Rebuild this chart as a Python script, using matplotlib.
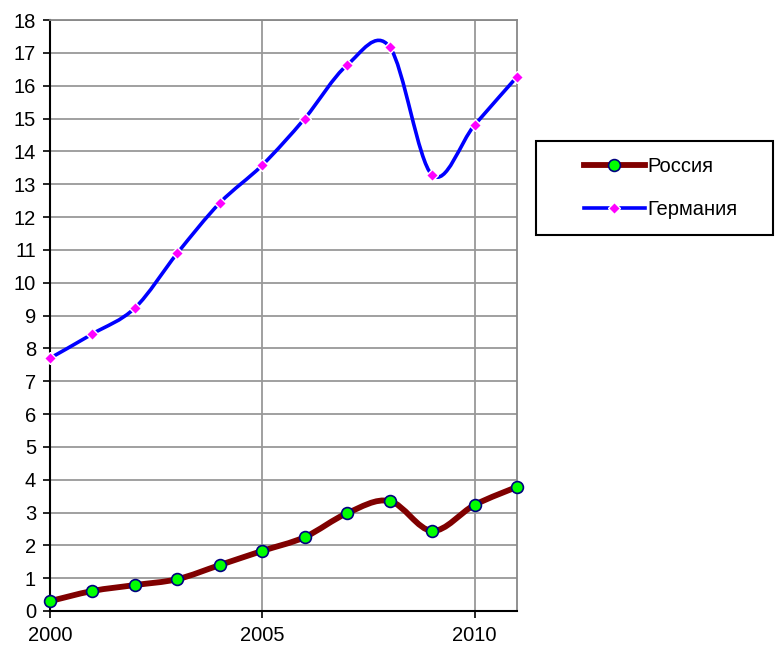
import numpy as np
import matplotlib
matplotlib.use('Agg')
import matplotlib.pyplot as plt
from matplotlib.path import Path
from matplotlib.patches import PathPatch, Rectangle
from matplotlib.lines import Line2D

plt.rcParams['font.family'] = ['Liberation Sans', 'DejaVu Sans']

years = [2000, 2001, 2002, 2003, 2004, 2005, 2006, 2007, 2008, 2009, 2010, 2011]
russia = [0.30, 0.61, 0.79, 0.97, 1.40, 1.83, 2.25, 2.98, 3.35, 2.44, 3.23, 3.78]
germany = [7.70, 8.44, 9.23, 10.90, 12.43, 13.58, 15.00, 16.63, 17.18, 13.28, 14.80, 16.27]
labels = ['Россия', 'Германия']


def smooth_path(x, y):
    # Excel-like smoothed line: bezier segments through the points
    pts = np.column_stack([x, y]).astype(float)
    n = len(pts)
    verts = [pts[0]]
    codes = [Path.MOVETO]
    for i in range(n - 1):
        p0 = pts[i - 1] if i > 0 else pts[i]
        p1 = pts[i]
        p2 = pts[i + 1]
        p3 = pts[i + 2] if i + 2 < n else pts[i + 1]
        verts += [p1 + (p2 - p0) / 6, p2 - (p3 - p1) / 6, p2]
        codes += [Path.CURVE4] * 3
    return Path(verts, codes)


fig = plt.figure(figsize=(7.76, 6.48), dpi=100)
ax = fig.add_axes([50 / 776, 37 / 648, 467 / 776, 591 / 648])

ax.set_xlim(2000, 2011)
ax.set_ylim(0, 18)
ax.set_yticks(range(0, 19))
ax.set_xticks([2000, 2005, 2010])
ax.grid(True, color='#999999', lw=1.3)
ax.set_axisbelow(True)
for s in ['top', 'right']:
    ax.spines[s].set_color('#888888')
    ax.spines[s].set_linewidth(1.3)
for s in ['left', 'bottom']:
    ax.spines[s].set_color('black')
    ax.spines[s].set_linewidth(1.5)
ax.tick_params(labelsize=14.5, length=5, width=1.2, direction='out')
ax.tick_params(axis='y', pad=5)
ax.tick_params(axis='x', pad=6)

# Russia
ax.add_patch(PathPatch(smooth_path(years, russia), facecolor='none', edgecolor='#800000',
                       lw=4.2, capstyle='round', joinstyle='round', clip_on=False, zorder=3))
ax.plot(years, russia, ls='none', marker='o', ms=8.5, mfc='#00ff00', mec='#000080', mew=1.2,
        clip_on=False, zorder=4)

# Germany
ax.add_patch(PathPatch(smooth_path(years, germany), facecolor='none', edgecolor='#0000ff',
                       lw=2.6, capstyle='round', joinstyle='round', clip_on=False, zorder=3))
ax.plot(years, germany, ls='none', marker='D', ms=6, mfc='#ff00ff', mec='white', mew=1,
        clip_on=False, zorder=4)

# legend
fig.patches.append(Rectangle((536 / 776, 1 - 235 / 648), 237 / 776, 94 / 648,
                             transform=fig.transFigure, facecolor='white',
                             edgecolor='black', lw=1.5))
h1 = Line2D([], [], color='#800000', lw=4.2, marker='o', ms=8.5, mfc='#00ff00', mec='#000080', mew=1.2)
h2 = Line2D([], [], color='#0000ff', lw=2.6, marker='D', ms=6, mfc='#ff00ff', mec='white', mew=1)
fig.legend([h1, h2], labels, loc='upper left', bbox_to_anchor=(570 / 776, 1 - 143 / 648),
           frameon=False, fontsize=14.5, handlelength=3.0, handletextpad=0.15,
           labelspacing=1.2, numpoints=1, borderpad=0.2)

plt.savefig('out.png', dpi=100)
